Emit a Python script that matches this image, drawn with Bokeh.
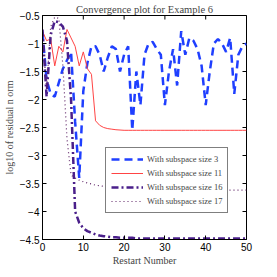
import math
from bokeh.plotting import figure
from bokeh.models import Legend, LegendItem, FixedTicker, Range1d
from bokeh.embed import file_html
from bokeh.resources import INLINE

restarts = list(range(0, 51))

size3 = [-0.8, -1.65, -1.9, -1.95, -1.7, -1.45, -1.3, -1.15, -2.4, -3.4,
         -1.85, -1.35, -1.05, -1.05, -1.2, -1.5, -1.25, -1.05, -1.1, -1.5,
         -1.2, -1.05, -2.55, -1.5, -2.1, -1.2, -1.0, -0.97, -1.1, -1.2,
         -2.1, -1.5, -1.1, -1.75, -0.78, -1.2, -0.9, -0.95, -1.1, -1.4,
         -2.1, -1.5, -1.0, -0.92, -1.0, -1.15, -0.9, -1.9, -1.2, -1.05, -1.0]

size11 = [-0.78, -0.95, -0.92, -1.4, -1.05, -1.15, -0.75, -0.9, -1.05, -1.4,
          -1.15, -1.45, -1.55, -2.38, -2.46, -2.5, -2.52, -2.53, -2.54, -2.545,
          -2.55, -2.55, -2.55, -2.55, -2.55, -2.55, -2.55, -2.55, -2.55, -2.55,
          -2.55, -2.55, -2.55, -2.55, -2.55, -2.55, -2.55, -2.55, -2.55, -2.55,
          -2.55, -2.55, -2.55, -2.55, -2.55, -2.55, -2.55, -2.55, -2.55, -2.55, -2.55]

size16 = [-0.75, -1.95, -0.85, -0.6, -0.62, -0.7, -0.95, -2.0, -4.0, -4.2,
          -4.3, -4.35, -4.38, -4.41, -4.43, -4.44, -4.45, -4.46, -4.46, -4.47,
          -4.47, -4.47, -4.47, -4.48, -4.48, -4.48, -4.48, -4.48, -4.48, -4.48,
          -4.48, -4.48, -4.48, -4.48, -4.48, -4.48, -4.48, -4.48, -4.48, -4.48,
          -4.48, -4.48, -4.48, -4.48, -4.48, -4.48, -4.48, -4.48, -4.48, -4.48, -4.48]

size17 = [-0.85, -1.8, -0.7, -0.53, -0.55, -1.4, -2.7, -3.35, -3.4, -3.44,
          -3.47, -3.49, -3.51, -3.53, -3.54, -3.55, -3.56, -3.56, -3.57, -3.57,
          -3.58, -3.58, -3.58, -3.59, -3.59, -3.59, -3.6, -3.6, -3.6, -3.6,
          -3.6, -3.6, -3.61, -3.61, -3.61, -3.61, -3.61, -3.61, -3.62, -3.62,
          -3.62, -3.62, -3.62, -3.62, -3.62, -3.62, -3.62, -3.62, -3.62, -3.62, -3.62]

series_labels = ["With subspace size 3", "With subspace size 11",
                 "With subspace size 16", "With subspace size 17"]

x_ticks = [0, 10, 20, 30, 40, 50]
y_ticks = [-4.5, -4, -3.5, -3, -2.5, -2, -1.5, -1, -0.5]
y_tick_labels = ["\u22124.5", "\u22124", "\u22123.5", "\u22123", "\u22122.5",
                 "\u22122", "\u22121.5", "\u22121", "\u22120.5"]

title_text = "Convergence plot for Example 6"
x_label = "Restart Number"
y_label = "log10 of residual n orm"

serif = "Liberation Serif"
sans = "Liberation Sans"

x_lo, x_hi = 0, 50
y_lo, y_hi = -4.5, -0.5

p = figure(width=262, height=268, output_backend="svg", toolbar_location=None,
           x_range=Range1d(x_lo, x_hi), y_range=Range1d(y_lo, y_hi),
           min_border_left=0, min_border_right=16, min_border_top=14, min_border_bottom=0)

p.title.text = title_text
p.title.align = "center"
p.title.text_font = serif
p.title.text_font_size = "10.5px"
p.title.text_font_style = "normal"
p.title.offset = 0
p.title.standoff = 2

p.xgrid.visible = False
p.ygrid.visible = False
p.outline_line_color = "black"
p.outline_line_width = 1

for ax in (p.xaxis[0], p.yaxis[0]):
    ax.major_tick_in = 4
    ax.major_tick_out = 0
    ax.minor_tick_line_color = None
    ax.axis_line_color = "black"
    ax.major_label_text_font = sans
    ax.major_label_text_font_size = "10px"
    ax.major_label_text_color = "black"
    ax.axis_label_text_font = serif
    ax.axis_label_text_font_size = "10px"
    ax.axis_label_text_font_style = "normal"

p.xaxis.ticker = FixedTicker(ticks=x_ticks)
p.yaxis.ticker = FixedTicker(ticks=y_ticks)
p.yaxis.major_label_overrides = {float(t): l for t, l in zip(y_ticks, y_tick_labels)}
p.xaxis.axis_label = x_label
p.yaxis.axis_label = y_label
p.xaxis.major_label_standoff = 3
p.yaxis.major_label_standoff = 3
p.xaxis.axis_label_standoff = 1
p.yaxis.axis_label_standoff = 2

# inward ticks on the top and right edges (half of each dash is clipped by the frame)
p.scatter(x_ticks, [y_hi] * len(x_ticks), marker="dash", size=8, angle=math.pi / 2,
          line_color="black", line_width=1)
p.scatter([x_hi] * len(y_ticks), y_ticks, marker="dash", size=8,
          line_color="black", line_width=1)

r3 = p.line(restarts, size3, line_color="#1f3fff", line_width=2.5, line_dash="8 5")
r11 = p.line(restarts, size11, line_color="#ff4444", line_width=1)
r16 = p.line(restarts, size16, line_color="#4a1f8a", line_width=2.5, line_dash="7 3 2 3")
r17 = p.line(restarts, size17, line_color="#5e2266", line_width=1.2, line_dash="1 3")

legend = Legend(items=[LegendItem(label=l, renderers=[r]) for l, r in
                       zip(series_labels, [r3, r11, r16, r17])],
                location=(63, 26), label_text_font=serif, label_text_font_size="8.5px",
                glyph_width=32, glyph_height=12, label_standoff=4, spacing=2,
                padding=5, margin=0, border_line_color="black", border_line_width=1,
                background_fill_color="white", background_fill_alpha=1.0)
p.add_layout(legend, "center")

open("out.html", "w").write(file_html(p, INLINE))
